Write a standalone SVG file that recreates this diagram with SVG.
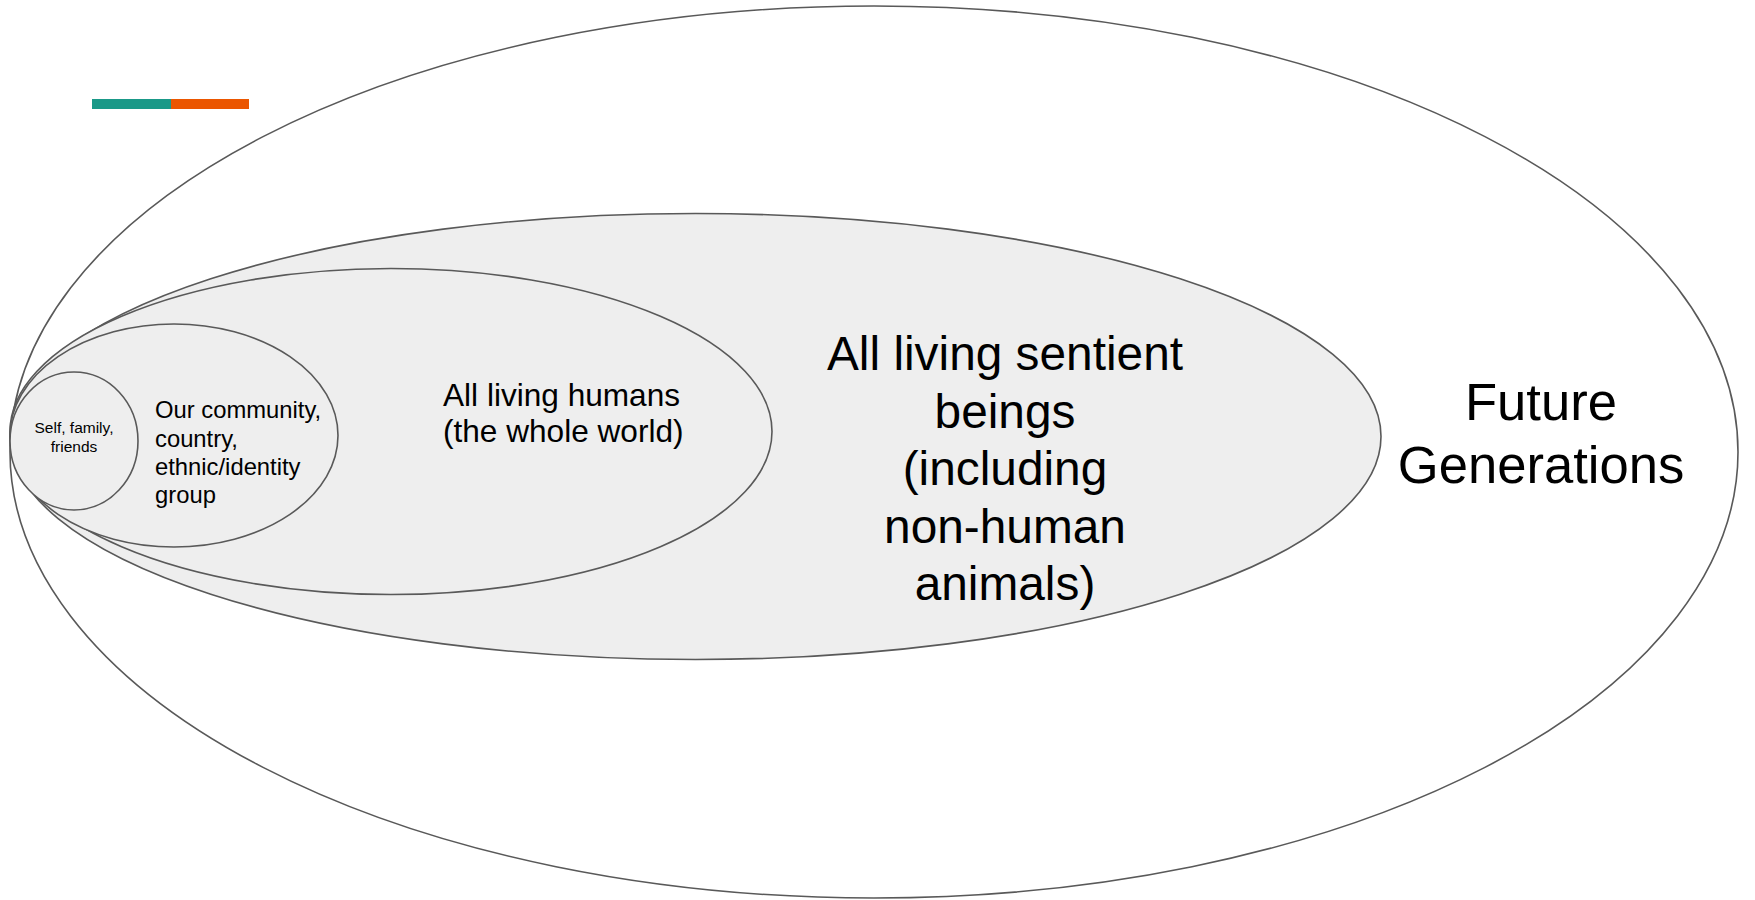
<svg xmlns="http://www.w3.org/2000/svg" width="1755" height="900" viewBox="0 0 1755 900">
<style>
.ring{stroke:#595959;stroke-width:1.6;}
.lbl{font-family:"Liberation Sans",Arial,sans-serif;fill:#000;}
</style>
<rect x="0" y="0" width="1755" height="900" fill="#ffffff"/>
<g id="accent">
<rect x="92" y="99" width="79" height="10" fill="#1a9988"/>
<rect x="171" y="99" width="78" height="10" fill="#eb5600"/>
</g>
<g id="future">
<ellipse class="ring" cx="874" cy="452" rx="864" ry="446" fill="#ffffff"/>
<text class="lbl" font-size="52.6" text-anchor="middle"><tspan x="1541" y="420">Future</tspan><tspan x="1541" y="483">Generations</tspan></text>
</g>
<g id="sentient">
<ellipse class="ring" cx="695.5" cy="436.5" rx="685.5" ry="223" fill="#eeeeee"/>
<text class="lbl" font-size="47.8" text-anchor="middle"><tspan x="1005" y="370">All living sentient</tspan><tspan x="1005" y="427.5">beings</tspan><tspan x="1005" y="485">(including</tspan><tspan x="1005" y="542.5">non-human</tspan><tspan x="1005" y="600">animals)</tspan></text>
</g>
<g id="humans">
<ellipse class="ring" cx="391" cy="431.5" rx="381" ry="163" fill="#eeeeee"/>
<text class="lbl" font-size="31.6"><tspan x="443" y="406">All living humans</tspan><tspan x="443" y="442">(the whole world)</tspan></text>
</g>
<g id="community">
<ellipse class="ring" cx="174" cy="435.5" rx="164" ry="111.5" fill="#eeeeee"/>
<text class="lbl" font-size="23.8"><tspan x="155" y="418">Our community,</tspan><tspan x="155" y="446.5">country,</tspan><tspan x="155" y="475">ethnic/identity</tspan><tspan x="155" y="503">group</tspan></text>
</g>
<g id="self">
<ellipse class="ring" cx="74" cy="441" rx="64" ry="69" fill="#eeeeee"/>
<text class="lbl" font-size="15.5" text-anchor="middle"><tspan x="74" y="433">Self, family,</tspan><tspan x="74" y="452">friends</tspan></text>
</g>
<g id="connectors"></g>
</svg>
